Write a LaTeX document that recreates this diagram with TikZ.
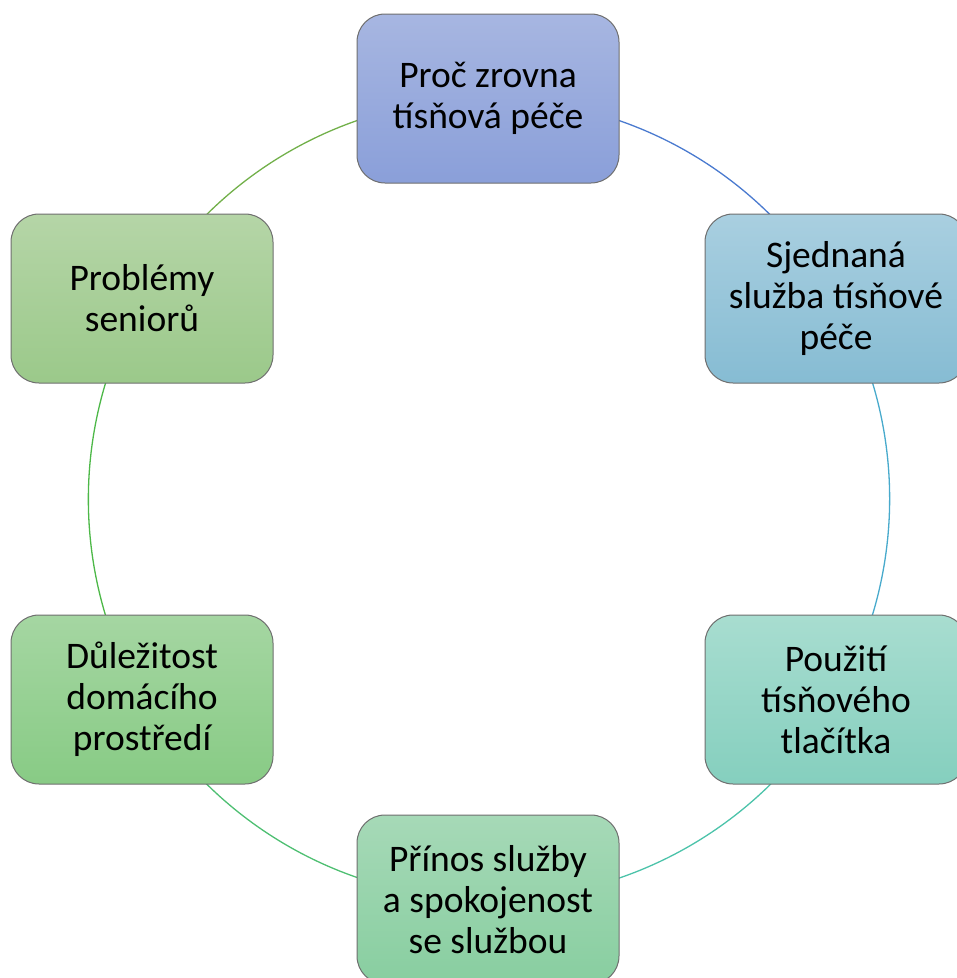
\documentclass[tikz,border=0pt]{standalone}
\usepackage{fontspec}
\setmainfont{Carlito}
\usetikzlibrary{backgrounds}
\definecolor{bxA}{HTML}{A7B6E1}\definecolor{bxAb}{HTML}{8A9FD9}
\definecolor{bxB}{HTML}{A9CFE0}\definecolor{bxBb}{HTML}{86BCD3}
\definecolor{bxC}{HTML}{A8DDD0}\definecolor{bxCb}{HTML}{85CFBE}
\definecolor{bxD}{HTML}{A6D9B7}\definecolor{bxDb}{HTML}{88CEA0}
\definecolor{bxE}{HTML}{A5D6A2}\definecolor{bxEb}{HTML}{88CB85}
\definecolor{bxF}{HTML}{B5D5A7}\definecolor{bxFb}{HTML}{9BC98A}
\definecolor{lnA}{HTML}{4A7ACF}
\definecolor{lnB}{HTML}{48AACC}
\definecolor{lnC}{HTML}{4CC3AA}
\definecolor{lnD}{HTML}{4EBF72}
\definecolor{lnE}{HTML}{4DB848}
\definecolor{lnF}{HTML}{72B04A}
\definecolor{bord}{HTML}{6F6F6F}
\tikzset{
  stepbox/.style={draw=bord, line width=1pt, rounded corners=28pt,
    minimum width=262pt, minimum height=169pt, align=center, inner sep=0pt,
    font=\fontsize{37.5}{41}\selectfont, text=black},
  ring/.style={line width=1.3pt}
}
\begin{document}
\begin{tikzpicture}[x=1pt,y=1pt]
\useasboundingbox (0,0) rectangle (957,-978);
\coordinate (O) at (488,-499);
\node[stepbox, top color=bxA, bottom color=bxAb] (top) at (488,-98.5) {Proč zrovna\\tísňová péče};
\node[stepbox, top color=bxB, bottom color=bxBb] (ur) at (836,-298.5) {Sjednaná\\služba tísňové\\péče};
\node[stepbox, top color=bxC, bottom color=bxCb] (lr) at (836,-699.5) {Použití\\tísňového\\tlačítka};
\node[stepbox, top color=bxD, bottom color=bxDb] (bot) at (488,-899.5) {Přínos služby\\a spokojenost\\se službou};
\node[stepbox, top color=bxE, bottom color=bxEb] (ll) at (142,-699.5) {Důležitost\\domácího\\prostředí};
\node[stepbox, top color=bxF, bottom color=bxFb] (ul) at (142,-298.5) {Problémy\\seniorů};
\begin{scope}[on background layer]
\draw[ring, lnA] (top.center) arc[start angle=90, end angle=30, radius=400.5];
\draw[ring, lnB] (ur.center) arc[start angle=30, end angle=-30, radius=400.5];
\draw[ring, lnC] (lr.center) arc[start angle=-30, end angle=-90, radius=400.5];
\draw[ring, lnD] (bot.center) arc[start angle=-90, end angle=-150, radius=400.5];
\draw[ring, lnE] (ll.center) arc[start angle=-150, end angle=-210, radius=400.5];
\draw[ring, lnF] (ul.center) arc[start angle=150, end angle=90, radius=400.5];
\end{scope}
\end{tikzpicture}
\end{document}
